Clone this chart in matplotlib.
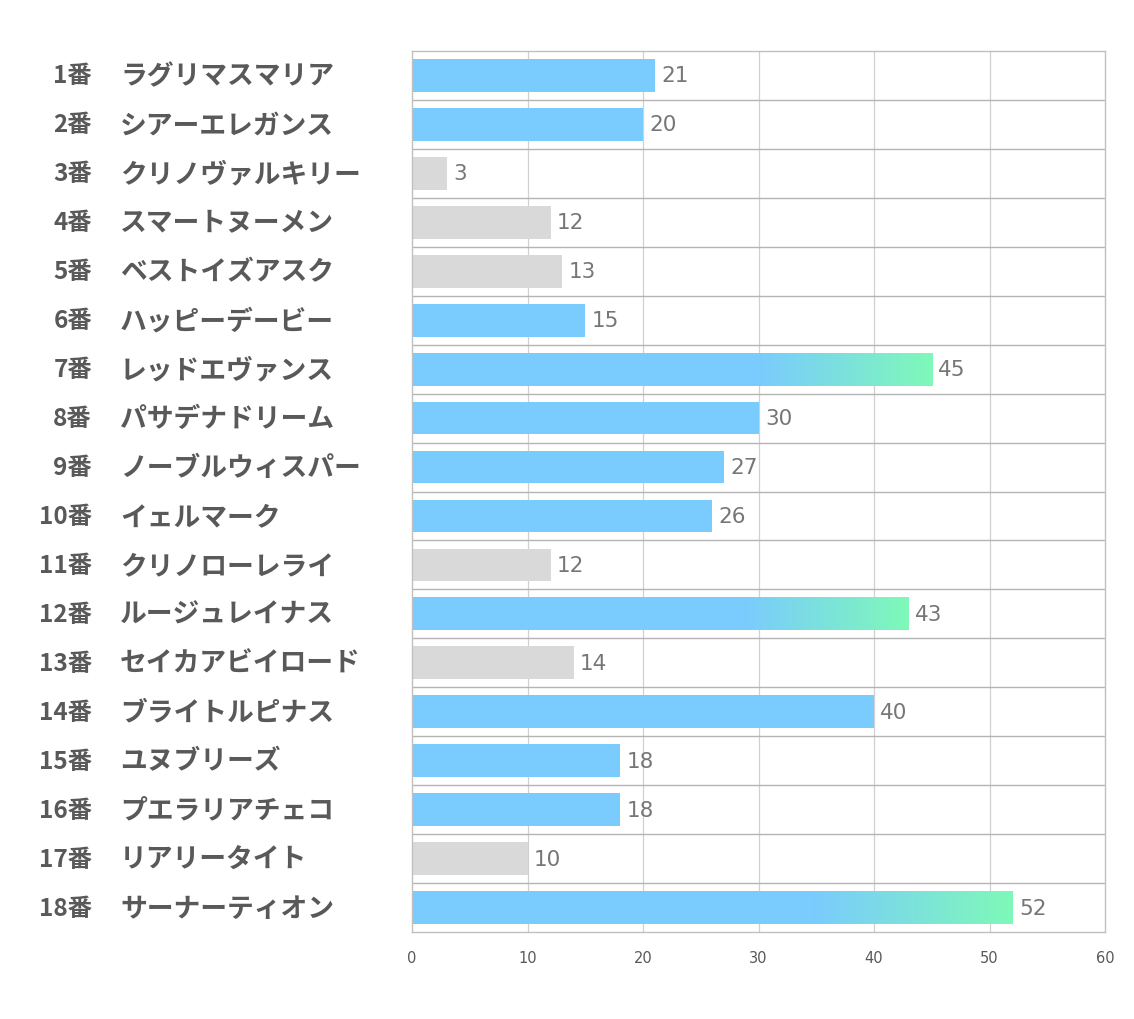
import matplotlib
matplotlib.use("Agg")
import matplotlib.pyplot as plt
import numpy as np
from matplotlib.colors import LinearSegmentedColormap
from matplotlib.transforms import blended_transform_factory

plt.rcParams['font.family'] = ['Noto Sans CJK JP', 'DejaVu Sans']

# データ
numbers = ["1番", "2番", "3番", "4番", "5番", "6番", "7番", "8番", "9番",
           "10番", "11番", "12番", "13番", "14番", "15番", "16番", "17番", "18番"]
names = ["ラグリマスマリア", "シアーエレガンス", "クリノヴァルキリー", "スマートヌーメン",
         "ベストイズアスク", "ハッピーデービー", "レッドエヴァンス", "パサデナドリーム",
         "ノーブルウィスパー", "イェルマーク", "クリノローレライ", "ルージュレイナス",
         "セイカアビイロード", "ブライトルピナス", "ユヌブリーズ", "プエラリアチェコ",
         "リアリータイト", "サーナーティオン"]
values = [21, 20, 3, 12, 13, 15, 45, 30, 27, 26, 12, 43, 14, 40, 18, 18, 10, 52]
xticks = [0, 10, 20, 30, 40, 50, 60]

BLUE = "#7ACBFE"
GREEN = "#7EF9B8"
GREY = "#D9D9D9"

fig = plt.figure(figsize=(11.34, 10.2), dpi=100)
ax = fig.add_axes([412 / 1134, 1 - 933 / 1020, (1105 - 412) / 1134, (933 - 52) / 1020])

n = len(values)
h = 0.67
cmap = LinearSegmentedColormap.from_list("bg", [BLUE, GREEN])
grad = np.linspace(0, 1, 256).reshape(1, -1)

for i, v in enumerate(values):
    c = GREY if v < 15 else BLUE
    ax.barh(i, v, height=h, color=c, zorder=2)
    if v > 40:
        # 末尾1/3をグラデーション
        start = v * 2 / 3
        ax.imshow(grad, cmap=cmap, aspect='auto', zorder=3,
                  extent=(start, v, i + h / 2, i - h / 2), interpolation='bicubic')
    ax.text(v + 0.55, i, str(v), va='center', ha='left', fontsize=15.5,
            color="#767676", family='DejaVu Sans', zorder=4)

ax.set_xlim(0, 60)
ax.set_ylim(n - 0.5, -0.5)
ax.set_xticks(xticks)
ax.set_xticklabels([str(t) for t in xticks], fontsize=10.5, color="#595959",
                   family='DejaVu Sans')
ax.tick_params(axis='x', length=0, pad=13)
ax.set_yticks([])

# グリッド
for t in xticks[1:-1]:
    ax.axvline(t, color="#D0D0D0", lw=0.9, zorder=1)
for k in range(1, n):
    ax.axhline(k - 0.5, color="#B4B4B4", lw=1.0, zorder=1)
for s in ax.spines.values():
    s.set_color("#C0C0C0")
    s.set_linewidth(1.0)

# ラベル
tr = blended_transform_factory(fig.transFigure, ax.transData)
for i in range(n):
    ax.text(92 / 1134, i, numbers[i], transform=tr, ha='right', va='center',
            fontsize=17.5, fontweight='bold', color="#595959")
    ax.text(120 / 1134, i, names[i], transform=tr, ha='left', va='center',
            fontsize=19.3, fontweight='bold', color="#595959")

fig.savefig("out.png", dpi=100, facecolor="white")
